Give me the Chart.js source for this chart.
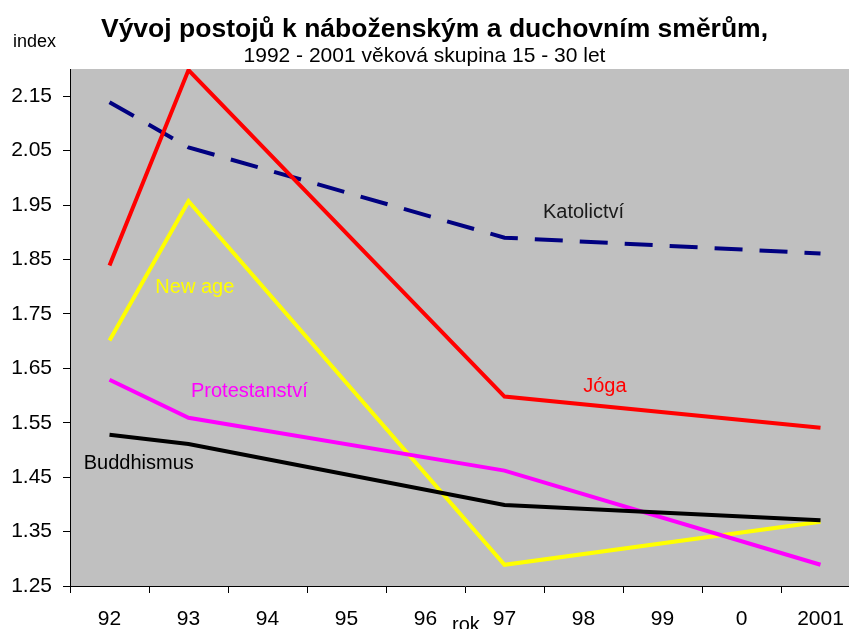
<!DOCTYPE html>
<html>
<head>
<meta charset="utf-8">
<script src="https://cdn.jsdelivr.net/npm/chart.js@4/dist/chart.umd.min.js"></script>
<style>
  html, body { margin: 0; padding: 0; background: #ffffff; overflow: hidden; }
  #wrap { width: 849px; height: 629px; overflow: hidden; position: relative; }
  canvas { display: block; }
</style>
</head>
<body>
<div id="wrap"><canvas id="c" width="870" height="629"></canvas></div>
<script>
// ---- data ----
const categories = ['92', '93', '94', '95', '96', '97', '98', '99', '0', '2001'];
const yTicks = [1.25, 1.35, 1.45, 1.55, 1.65, 1.75, 1.85, 1.95, 2.05, 2.15];
const katolictvi  = [2.139, 2.056, null, null, null, 1.890, null, null, null, 1.861];
const joga        = [1.839, 2.198, null, null, null, 1.598, null, null, null, 1.541];
const newAge      = [1.701, 1.957, null, null, null, 1.289, null, null, null, 1.368];
const protestant  = [1.629, 1.559, null, null, null, 1.462, null, null, null, 1.289];
const buddhismus  = [1.528, 1.511, null, null, null, 1.399, null, null, null, 1.371];

const titleText = 'Vývoj postojů k náboženským a duchovním směrům,';
const subtitleText = '1992 - 2001 věková skupina 15 - 30 let';

const FONT = '"Liberation Sans", Arial, sans-serif';

// series labels placed in data coordinates (category index, value)
const seriesLabels = [
  { text: 'Katolictví',    xi: 6.00, v: 1.936, color: '#1a1a1a' },
  { text: 'Jóga',          xi: 6.27, v: 1.616, color: '#ff0000' },
  { text: 'New age',       xi: 1.08, v: 1.798, color: '#ffff00' },
  { text: 'Protestanství', xi: 1.77, v: 1.607, color: '#ff00ff' },
  { text: 'Buddhismus',    xi: 0.37, v: 1.476, color: '#000000' }
];

const bgPlugin = {
  id: 'plotBg',
  beforeDraw(chart) {
    const { ctx, chartArea: a } = chart;
    ctx.save();
    ctx.fillStyle = '#ffffff';
    ctx.fillRect(0, 0, chart.width, chart.height);
    ctx.fillStyle = '#c0c0c0';
    ctx.fillRect(a.left, a.top, a.right - a.left, a.bottom - a.top);
    ctx.restore();
  }
};

const textPlugin = {
  id: 'texts',
  afterDraw(chart) {
    const { ctx, scales } = chart;
    const xs = scales.x, ys = scales.y;
    ctx.save();
    ctx.textBaseline = 'alphabetic';
    // title
    ctx.fillStyle = '#000';
    ctx.textAlign = 'center';
    ctx.font = 'bold 26.5px ' + FONT;
    ctx.fillText(titleText, 434.5, 37);
    ctx.font = '21px ' + FONT;
    ctx.fillText(subtitleText, 424.5, 62);
    // axis titles
    ctx.textAlign = 'left';
    ctx.font = '18px ' + FONT;
    ctx.fillText('index', 13, 47);
    ctx.font = '20px ' + FONT;
    ctx.fillText('rok', 452, 631);
    // series labels
    ctx.textAlign = 'center';
    ctx.textBaseline = 'middle';
    ctx.font = '20px ' + FONT;
    const step = xs.getPixelForValue(1) - xs.getPixelForValue(0);
    seriesLabels.forEach(l => {
      const x = xs.getPixelForValue(0) + l.xi * step;
      const y = ys.getPixelForValue(l.v);
      ctx.fillStyle = l.color;
      ctx.fillText(l.text, x, y);
    });
    ctx.restore();
  }
};

function ds(label, data, color, dash) {
  return {
    label, data,
    borderColor: color,
    backgroundColor: color,
    borderWidth: 4,
    borderDash: dash || [],
    pointRadius: 0,
    pointHoverRadius: 0,
    tension: 0,
    spanGaps: true,
    fill: false
  };
}

new Chart(document.getElementById('c'), {
  type: 'line',
  data: {
    labels: categories,
    datasets: [
      ds('Buddhismus', buddhismus, '#000000'),
      ds('Protestanství', protestant, '#ff00ff'),
      ds('New age', newAge, '#ffff00'),
      ds('Jóga', joga, '#ff0000'),
      ds('Katolictví', katolictvi, '#000080', [28, 17])
    ]
  },
  options: {
    responsive: false,
    animation: false,
    devicePixelRatio: 1,
    layout: { padding: { top: 69, right: 10, left: 0, bottom: 0 } },
    plugins: {
      legend: { display: false },
      tooltip: { enabled: false },
      title: { display: false }
    },
    scales: {
      x: {
        type: 'category',
        offset: true,
        grid: {
          display: true,
          drawOnChartArea: false,
          drawTicks: true,
          tickLength: 7,
          color: '#000',
          offset: true
        },
        border: { display: true, color: '#000', width: 1 },
        ticks: {
          autoSkip: false,
          maxRotation: 0,
          padding: 14,
          color: '#000',
          font: { family: FONT, size: 21 }
        },
        afterFit(scale) { scale.height = 43; }
      },
      y: {
        min: 1.25,
        max: 2.2,
        afterBuildTicks(scale) {
          scale.ticks = yTicks.map(v => ({ value: v }));
        },
        grid: {
          display: true,
          drawOnChartArea: false,
          drawTicks: true,
          tickLength: 7,
          color: '#000'
        },
        border: { display: true, color: '#000', width: 1 },
        ticks: {
          padding: 11,
          color: '#000',
          font: { family: FONT, size: 21 },
          callback: v => Number(v).toFixed(2)
        },
        afterFit(scale) { scale.width = 70; }
      }
    }
  },
  plugins: [bgPlugin, textPlugin]
});
</script>
</body>
</html>
